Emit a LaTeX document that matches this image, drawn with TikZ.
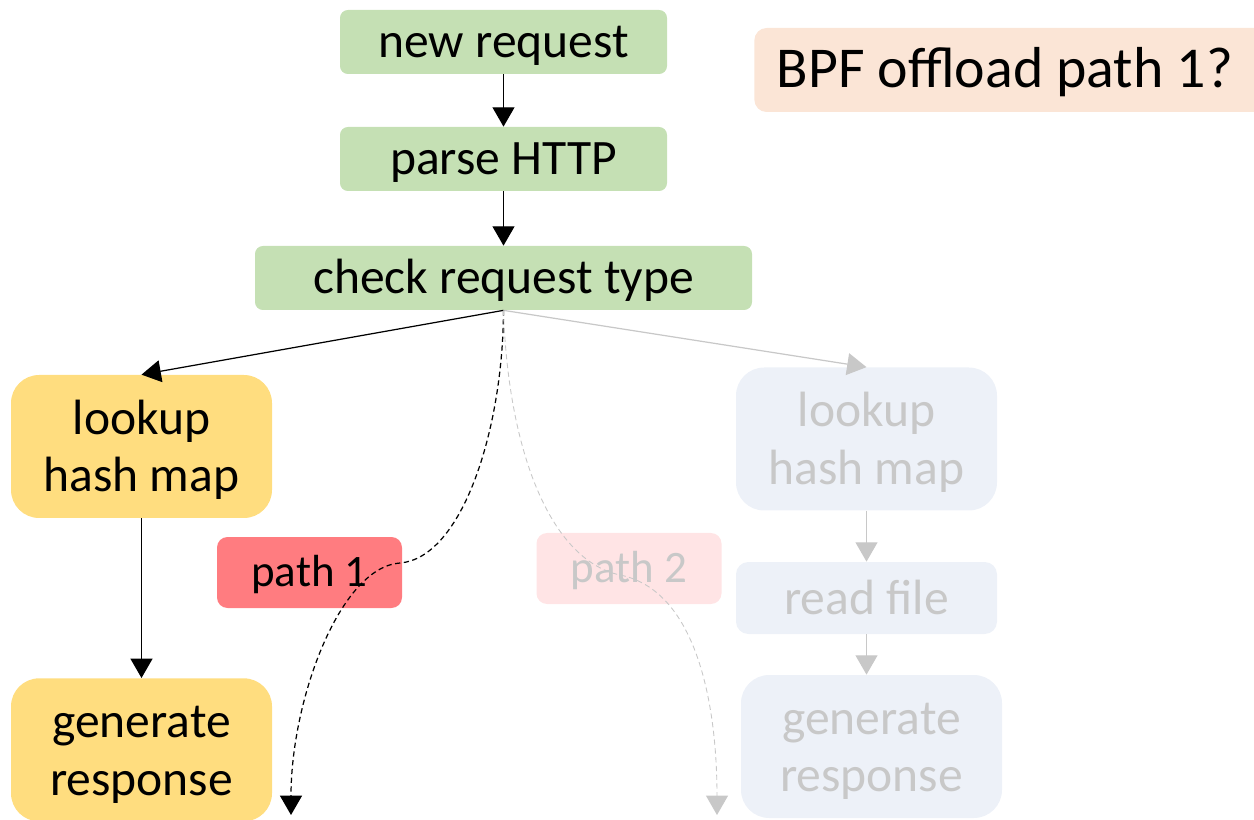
\documentclass[tikz,border=0pt]{standalone}
\usepackage{fontspec}
\setmainfont{Carlito}
\usetikzlibrary{arrows.meta}
\definecolor{grn}{HTML}{C5E0B4}
\definecolor{ylw}{HTML}{FFDD7F}
\definecolor{red1}{HTML}{FF7C80}
\definecolor{pnk}{HTML}{FFE4E5}
\definecolor{peach}{HTML}{FBE5D6}
\definecolor{gbox}{HTML}{EDF1F8}
\definecolor{gtxt}{HTML}{C8C8C8}
\newcommand{\twolines}[2]{\vbox{\halign{\hfil##\hfil\cr #1\cr #2\cr}}}
\tikzset{
  box/.style={inner sep=0pt, font=\fontsize{28.2}{32.9}\selectfont, text height=18.1pt, text depth=0pt},
  twobox/.style={text height=51.6pt, text depth=0pt},
  greenbox/.style={box, fill=grn, rounded corners=4.5pt},
  yellowbox/.style={box, twobox, fill=ylw, rounded corners=16pt, minimum width=261*0.02cm, minimum height=143*0.02cm},
  graybox/.style={box, fill=gbox, text=gtxt, rounded corners=16pt, minimum width=261*0.02cm, minimum height=143*0.02cm},
  pathbox/.style={inner sep=0pt, font=\fontsize{25.6}{29}\selectfont, text height=16.2pt, text depth=0pt, rounded corners=6pt, minimum width=185*0.02cm, minimum height=71*0.02cm},
  arr/.style={-{Triangle[length=11pt,width=12.5pt]}, line width=0.7pt},
  garr/.style={arr, draw=gtxt},
  dsh/.style={arr, dash pattern=on 3pt off 2pt},
}
\begin{document}
\begin{tikzpicture}[x=0.02cm,y=-0.02cm]
\useasboundingbox (0,0) rectangle (1254,820);
\clip (0,0) rectangle (1254,820);
% nodes
\node[greenbox, minimum width=327*0.02cm, minimum height=64*0.02cm] (new) at (503.5,42) {new request};
\node[greenbox, minimum width=327*0.02cm, minimum height=64*0.02cm] (parse) at (503.5,159) {parse HTTP};
\node[greenbox, minimum width=497*0.02cm, minimum height=64*0.02cm] (check) at (503.5,278) {check request type};
\node[inner sep=0pt, fill=peach, rounded corners=7pt, minimum width=520*0.02cm, minimum height=84*0.02cm, font=\fontsize{32.9}{38}\selectfont, text height=20.4pt, text depth=0pt, anchor=west] (bpf) at (754,70) {\hspace*{-10.8pt}BPF offload path 1?};
\node[yellowbox] (look) at (141.5,446.5) {\twolines{lookup}{hash map}};
\node[yellowbox, anchor=north] (gen) at (141.5,678) {\twolines{generate}{response}};
\node[pathbox, fill=red1] (p1) at (309.5,572.5) {path 1};
\node[pathbox, fill=pnk, text=gtxt, text height=15.4pt] (p2) at (629,568.5) {path 2};
\node[graybox, twobox] (glook) at (866.5,439) {\twolines{lookup}{hash map}};
\node[graybox, rounded corners=7pt, minimum height=72*0.02cm, text height=19pt] (gread) at (866.5,598) {read file};
\node[graybox, twobox] (ggen) at (871.5,746.5) {\twolines{generate}{response}};
\coordinate (e1) at (291,815);
\coordinate (e2) at (717,815);
% connectors
\draw[arr] (new.south) -- (parse.north);
\draw[arr] (parse.south) -- (check.north);
\draw[arr] (check.south) -- (look.north);
\draw[garr] (check.south) -- (glook.north);
\draw[arr] (look.south) -- (gen.north);
\draw[garr] (glook.south) -- (gread.north);
\draw[garr] (gread.south) -- (gread.south |- ggen.north);
\draw[dsh] (check.south) .. controls (503,430) and (462,558) .. (400,563) .. controls (340,567) and (291,700) .. (e1);
\draw[dsh, draw=gtxt, line width=0.5pt] (check.south) .. controls (508,450) and (550,560) .. (620,575) .. controls (695,590) and (717,700) .. (e2);
\end{tikzpicture}
\end{document}
